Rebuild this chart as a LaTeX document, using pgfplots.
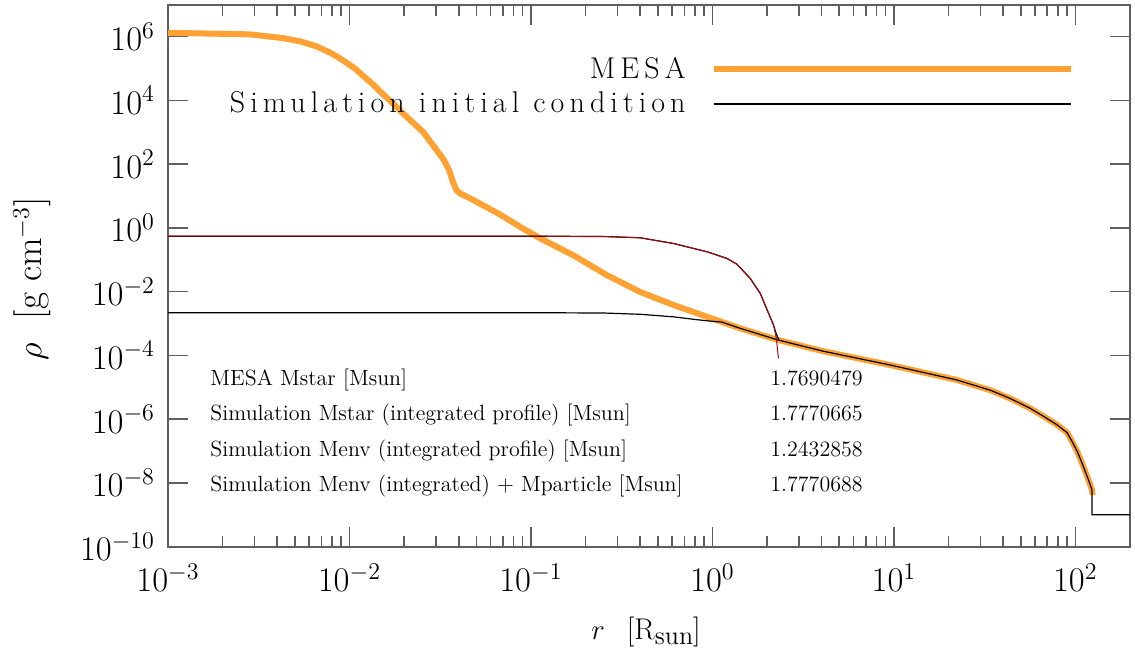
\documentclass[border=0pt]{standalone}
\usepackage{fontspec}
\usepackage{pgfplots}
\pgfplotsset{compat=1.18}
\newfontfamily\legfont{Latin Modern Roman}[LetterSpace=17]
\definecolor{mesaorange}{RGB}{255,161,51}
\definecolor{simred}{RGB}{165,10,10}
\definecolor{axgray}{RGB}{95,95,95}

\begin{document}
\begin{tikzpicture}
\begin{axis}[name=ax, scale only axis, width=481pt, height=271pt,
    xmode=log, ymode=log,
    xmin=1e-3, xmax=200, ymin=1e-10, ymax=1e7,
    xtick={1e-3,1e-2,1e-1,1,10,100},
    ytick={1e-10,1e-8,1e-6,1e-4,1e-2,1,1e2,1e4,1e6},
    yminorticks=false,
    major tick length=10pt, minor tick length=5.5pt,
    axis line style={axgray, line width=0.8pt},
    every tick/.style={axgray, line width=0.8pt},
    tick label style={font=\fontsize{17.28}{20}\selectfont},
    xticklabel style={yshift=-5pt},
    yticklabel style={xshift=-3pt},
    xlabel={$r$\hspace{11pt}[R\raisebox{-2.5pt}{\fontsize{13}{15}\selectfont sun}]},
    ylabel={$\rho$\hspace{12pt}[g cm$^{-3}$]},
    xlabel style={at={(axis description cs:0.497,-0.172)}, anchor=base, inner sep=0pt,
        font=\fontsize{15}{18}\selectfont},
    ylabel style={at={(axis description cs:-0.1215,0.494)}, anchor=south, inner sep=0pt,
        font=\fontsize{18.5}{22}\selectfont},
    legend style={draw=none, fill=none, at={(axis description cs:0.9418,0.9044)},
        anchor=north east, inner sep=0pt, row sep=5.4pt, column sep=12.5pt,
        font=\legfont\fontsize{15}{18}\selectfont, nodes={inner sep=0pt}},
    legend cell align={right}, legend plot pos=right,
    legend image code/.code={\draw[#1] (0pt,0pt) -- (178.5pt,0pt);},
]
% MESA profile
\addplot[mesaorange, line width=3pt] coordinates {
    (1e-3,1.318e6) (2.831e-3,1.175e6) (4.325e-3,8.913e5) (5.370e-3,7.079e5) (6.607e-3,4.898e5)
    (7.943e-3,3.020e5) (9.247e-3,1.778e5) (1.072e-2,1.0e5) (1.194e-2,5.754e4) (1.349e-2,3.162e4)
    (1.538e-2,1.514e4) (1.738e-2,7.943e3) (1.982e-2,3.802e3) (2.239e-2,1.995e3) (2.553e-2,1000)
    (2.897e-2,380.2) (3.296e-2,141.3) (3.548e-2,63.1) (3.741e-2,25.12) (3.890e-2,15.14)
    (4.074e-2,12.02) (4.467e-2,9.333) (5.012e-2,6.607) (6.761e-2,2.630) (8.913e-2,1.0)
    (0.1125,0.4677) (0.1714,0.1380) (0.2618,3.311e-2) (0.3999,9.772e-3) (0.6109,3.802e-3)
    (0.9354,1.622e-3) (1.422,7.079e-4) (2.312,3.020e-4) (4.093,1.349e-4) (9.528,5.012e-5)
    (22.23,1.698e-5) (33.96,8.128e-6) (43.75,4.467e-6) (56.36,2.188e-6) (67.61,1.175e-6)
    (79.43,6.607e-7) (89.95,3.802e-7) (95.5,2.089e-7) (102.1,1.0e-7) (108.4,4.467e-8)
    (113.5,2.239e-8) (118.9,1.122e-8) (123.6,6.026e-9) (124.5,4.169e-9)
};
\addlegendentry{MESA}
% simulation initial condition
\addplot[black, line width=0.6pt] coordinates {
    (1e-3,2.188e-3) (0.1,2.188e-3) (0.2512,2.138e-3) (0.3999,1.950e-3) (0.6109,1.622e-3)
    (0.8222,1.318e-3) (1,1.175e-3) (1.122,1.122e-3) (1.422,7.079e-4) (2.312,3.020e-4)
    (4.093,1.349e-4) (9.528,5.012e-5) (22.23,1.698e-5) (33.96,8.128e-6) (43.75,4.467e-6)
    (56.36,2.188e-6) (67.61,1.175e-6) (79.43,6.607e-7) (89.95,3.802e-7) (95.5,2.089e-7)
    (102.1,1.0e-7) (108.4,4.467e-8) (113.5,2.239e-8) (118.9,1.122e-8) (123.6,6.026e-9)
    (123.6,1e-9) (200,1e-9)
};
\addlegendentry{Simulation initial condition}
\addplot[black, line width=0.6pt, forget plot] coordinates {
    (1e-3,0.5495) (0.1,0.5495) (0.2512,0.537) (0.3999,0.4898) (0.6109,0.3236)
    (0.9354,0.1778) (1.205,0.1096) (1.365,0.0724) (1.618,0.0257) (1.837,8.71e-3)
    (1.995,2.818e-3) (2.173,8.91e-4) (2.239,5.01e-4) (2.333,2.95e-4)
};
\addplot[simred, line width=0.5pt, forget plot] coordinates {
    (1e-3,0.5495) (0.1,0.5495) (0.2512,0.537) (0.3999,0.4898) (0.6109,0.3236)
    (0.9354,0.1778) (1.205,0.1096) (1.365,0.0724) (1.618,0.0257) (1.837,8.71e-3)
    (1.995,2.818e-3) (2.173,8.91e-4) (2.249,3.55e-4) (2.312,8.13e-5)
};
\begin{scope}[every node/.style={font=\fontsize{11}{13}\selectfont, inner sep=0pt}]
\node[anchor=base west] at (axis description cs:0.0437,0.2983) {MESA Mstar [Msun]};
\node[anchor=base west] at (axis description cs:0.0437,0.2327) {Simulation Mstar (integrated profile) [Msun]};
\node[anchor=base west] at (axis description cs:0.0437,0.1670) {Simulation Menv (integrated profile) [Msun]};
\node[anchor=base west] at (axis description cs:0.0437,0.1013) {Simulation Menv (integrated) + Mparticle [Msun]};
\node[anchor=base west] at (axis description cs:0.6258,0.2983) {1.7690479};
\node[anchor=base west] at (axis description cs:0.6258,0.2327) {1.7770665};
\node[anchor=base west] at (axis description cs:0.6258,0.1670) {1.2432858};
\node[anchor=base west] at (axis description cs:0.6258,0.1013) {1.7770688};
\end{scope}
\end{axis}
\pgfresetboundingbox
\path ([shift={(-84pt,-54.65pt)}]ax.south west) rectangle ([shift={(2.5pt,2.35pt)}]ax.north east);
\end{tikzpicture}
\end{document}
